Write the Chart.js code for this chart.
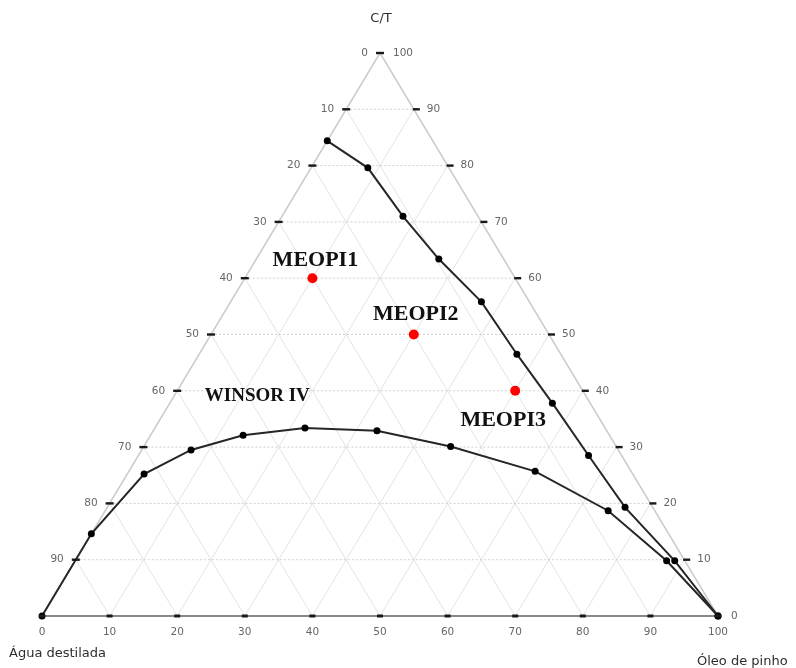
<!DOCTYPE html>
<html>
<head>
<meta charset="utf-8">
<script src="https://cdn.jsdelivr.net/npm/chart.js@4.4.1/dist/chart.umd.min.js"></script>
<style>
  html, body { margin: 0; padding: 0; background: #ffffff; }
  #c { display: block; }
</style>
</head>
<body>
<canvas id="c" width="796" height="668"></canvas>
<script>
// ---- Data (ternary compositions, %): Óleo de pinho and C/T; Água = 100 - óleo - C/T ----
const upperOil = [0, 8.4, 17.9, 27.0, 37.1, 47.0, 56.6, 66.6, 76.6, 88.7, 100];
const upperCT  = [84.4, 79.6, 71.0, 63.4, 55.8, 46.5, 37.8, 28.5, 19.3, 9.8, 0];

const lowerOil = [0, 0, 2.5, 7.3, 13.7, 22.2, 33.1, 45.4, 60.1, 74.4, 87.5, 100];
const lowerCT  = [0, 14.6, 25.2, 29.5, 32.1, 33.4, 32.9, 30.1, 25.7, 18.7, 9.8, 0];

const sampleNames = ['MEOPI1', 'MEOPI2', 'MEOPI3'];
const sampleOil   = [10, 30, 50];
const sampleCT    = [60, 50, 40];

const regionName = 'WINSOR IV';
const regionOil  = 12.3;
const regionCT   = 39.1;

// Tick labels
const gridSteps    = [10, 20, 30, 40, 50, 60, 70, 80, 90];
const bottomLabels = ['0', '10', '20', '30', '40', '50', '60', '70', '80', '90', '100'];
const leftLabels   = ['0', '10', '20', '30', '40', '50', '60', '70', '80', '90'];   // from apex downward
const rightLabels  = ['100', '90', '80', '70', '60', '50', '40', '30', '20', '10', '0']; // from apex downward

const titleTop    = 'C/T';
const titleLeft   = 'Água destilada';
const titleRight  = 'Óleo de pinho';

// ---- helpers ----
function tern(oil, ct) { return { x: oil + ct / 2, y: ct }; }
function seg(a, b) { return [a, b]; }

const datasets = [];

// grid: diagonal lines
gridSteps.forEach(k => {
  datasets.push({ data: seg({x: k, y: 0}, {x: (100 + k) / 2, y: 100 - k}),
    showLine: true, borderColor: '#e3e3e3', borderWidth: 1, pointRadius: 0, clip: false, order: 20 });
  datasets.push({ data: seg({x: k, y: 0}, {x: k / 2, y: k}),
    showLine: true, borderColor: '#e3e3e3', borderWidth: 1, pointRadius: 0, clip: false, order: 20 });
});
// grid: horizontal dotted lines
gridSteps.forEach(c => {
  datasets.push({ data: seg({x: c / 2, y: c}, {x: 100 - c / 2, y: c}),
    showLine: true, borderColor: '#d0d0d0', borderWidth: 1, borderDash: [2, 2], pointRadius: 0, clip: false, order: 19 });
});
// triangle edges
datasets.push({ data: seg({x: 0, y: 0}, {x: 50, y: 100}), showLine: true, borderColor: '#cccccc', borderWidth: 1.5, pointRadius: 0, clip: false, order: 15 });
datasets.push({ data: seg({x: 100, y: 0}, {x: 50, y: 100}), showLine: true, borderColor: '#cccccc', borderWidth: 1.5, pointRadius: 0, clip: false, order: 15 });
datasets.push({ data: seg({x: 0, y: 0}, {x: 100, y: 0}), showLine: true, borderColor: '#888888', borderWidth: 2, pointRadius: 0, clip: false, order: 14 });

// curves
datasets.push({ label: 'upper', data: upperOil.map((o, i) => tern(o, upperCT[i])),
  showLine: true, borderColor: '#262626', borderWidth: 2, tension: 0,
  pointRadius: 3.5, pointBackgroundColor: '#000', pointBorderColor: '#000', pointBorderWidth: 0, clip: false, order: 5 });
datasets.push({ label: 'lower', data: lowerOil.map((o, i) => tern(o, lowerCT[i])),
  showLine: true, borderColor: '#262626', borderWidth: 2, tension: 0,
  pointRadius: 3.5, pointBackgroundColor: '#000', pointBorderColor: '#000', pointBorderWidth: 0, clip: false, order: 5 });
// samples
datasets.push({ label: 'samples', data: sampleOil.map((o, i) => tern(o, sampleCT[i])),
  showLine: false, pointRadius: 5, pointBackgroundColor: '#ff0000', pointBorderColor: '#ff0000', pointBorderWidth: 0, clip: false, order: 1 });

// label offsets (pixels) relative to each sample point
const sampleLabelOffsets = [[3, -18], [2, -20], [-12, 30]];

const ternaryDecor = {
  id: 'ternaryDecor',
  afterDatasetsDraw(chart) {
    const c = chart.ctx;
    const xs = chart.scales.x, ys = chart.scales.y;
    const P = (X, Y) => [xs.getPixelForValue(X), ys.getPixelForValue(Y)];
    c.save();
    // tick marks
    c.fillStyle = '#1a1a1a';
    leftLabels.forEach((lab, i) => {
      const ct = 100 - i * 10;
      const [px, py] = P(ct / 2, ct);
      c.fillRect(px - 4, py - 1.2, 8, 2.4);
    });
    rightLabels.forEach((lab, i) => {
      const ct = 100 - i * 10;
      if (ct === 100 || ct === 0) return;
      const [px, py] = P(100 - ct / 2, ct);
      c.fillRect(px - 1, py - 1.2, 7, 2.4);
    });
    bottomLabels.forEach((lab, i) => {
      const [px, py] = P(i * 10, 0);
      c.fillRect(px - 3, py - 1.5, 6, 3);
    });
    // tick labels
    c.font = '10.5px "DejaVu Sans", sans-serif';
    c.fillStyle = '#666666';
    c.textBaseline = 'middle';
    c.textAlign = 'right';
    leftLabels.forEach((lab, i) => {
      const ct = 100 - i * 10;
      const [px, py] = P(ct / 2, ct);
      c.fillText(lab, px - 12, py);
    });
    c.textAlign = 'left';
    rightLabels.forEach((lab, i) => {
      const ct = 100 - i * 10;
      const [px, py] = P(100 - ct / 2, ct);
      c.fillText(lab, px + 13, py);
    });
    c.textAlign = 'center';
    bottomLabels.forEach((lab, i) => {
      const [px, py] = P(i * 10, 0);
      c.fillText(lab, px, py + 16);
    });
    // axis titles
    c.font = '13px "DejaVu Sans", sans-serif';
    c.fillStyle = '#2e2e2e';
    const [ax, ay] = P(50, 100);
    c.textAlign = 'center';
    c.fillText(titleTop, ax + 1, ay - 34);
    const [lx, ly] = P(0, 0);
    c.textAlign = 'left';
    c.textBaseline = 'alphabetic';
    c.fillText(titleLeft, lx - 33, ly + 41);
    const [rx, ry] = P(100, 0);
    c.fillText(titleRight, rx - 21, ry + 49);
    // sample labels
    c.fillStyle = '#111111';
    c.textAlign = 'center';
    c.textBaseline = 'middle';
    c.font = 'bold 22px "Liberation Serif", "Times New Roman", serif';
    sampleNames.forEach((name, i) => {
      const t = tern(sampleOil[i], sampleCT[i]);
      const [px, py] = P(t.x, t.y);
      c.fillText(name, px + sampleLabelOffsets[i][0], py + sampleLabelOffsets[i][1]);
    });
    c.font = 'bold 19px "Liberation Serif", "Times New Roman", serif';
    const w = tern(regionOil, regionCT);
    const [wx, wy] = P(w.x, w.y);
    c.fillText(regionName, wx, wy);
    c.restore();
  }
};

new Chart(document.getElementById('c'), {
  type: 'scatter',
  data: { datasets },
  options: {
    responsive: false,
    animation: false,
    devicePixelRatio: 1,
    layout: { padding: { left: 42, right: 78, top: 53, bottom: 52 } },
    scales: {
      x: { type: 'linear', min: 0, max: 100, display: false },
      y: { type: 'linear', min: 0, max: 100, display: false }
    },
    plugins: { legend: { display: false }, tooltip: { enabled: false } },
    events: []
  },
  plugins: [ternaryDecor]
});
</script>
</body>
</html>
